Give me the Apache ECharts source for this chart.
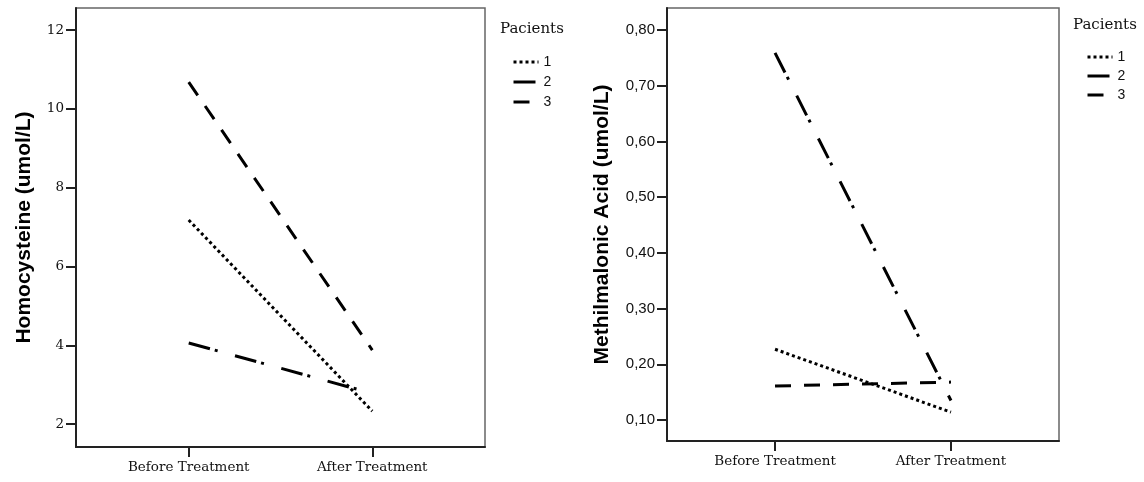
<!DOCTYPE html>
<html>
<head>
<meta charset="utf-8">
<script src="https://cdn.jsdelivr.net/npm/echarts@6/dist/echarts.min.js"></script>
<style>html,body{margin:0;padding:0;background:#fff}#c{width:1144px;height:482px}</style>
</head>
<body>
<div id="c"></div>
<script>
const categories = ['Before Treatment', 'After Treatment'];
const patients = ['1', '2', '3'];
const homocysteine = {
  '1': [7.18, 2.33],
  '2': [4.06, 2.78],
  '3': [10.68, 3.88]
};
const methylmalonic = {
  '1': [0.227, 0.114],
  '2': [0.759, 0.135],
  '3': [0.161, 0.168]
};
const homoTicks = [2, 4, 6, 8, 10, 12];
const mmaTicks = [0.1, 0.2, 0.3, 0.4, 0.5, 0.6, 0.7, 0.8];

const dashes = { '1': [3, 3], '2': [22, 5, 3, 18], '3': [16, 13] };

const chart = echarts.init(document.getElementById('c'));
const serif = 'DejaVu Serif';
const sans = 'Liberation Sans';

function xAxis(gi) {
  return {
    type: 'value', gridIndex: gi, min: -0.614, max: 1.614,
    axisLine: { show: true, onZero: false, lineStyle: { color: '#222', width: 2 } },
    axisTick: { show: true, length: 10, customValues: [0, 1], lineStyle: { color: '#222', width: 2 } },
    axisLabel: {
      customValues: [0, 1], margin: 13,
      formatter: v => categories[Math.round(v)],
      fontFamily: serif, fontSize: 13.5, color: '#111'
    },
    splitLine: { show: false }
  };
}
function yAxis(gi, min, max, ticks, name, fmt, font, fsize, gap) {
  return {
    type: 'value', gridIndex: gi, min: min, max: max,
    name: name, nameLocation: 'middle', nameGap: gap,
    nameTextStyle: { fontFamily: sans, fontWeight: 'bold', fontSize: 21, color: '#000' },
    axisLine: { show: true, onZero: false, lineStyle: { color: '#222', width: 2 } },
    axisTick: { show: true, length: 10, customValues: ticks, lineStyle: { color: '#222', width: 2 } },
    axisLabel: { customValues: ticks, formatter: fmt, fontFamily: font, fontSize: fsize, color: '#111', margin: 12 },
    splitLine: { show: false }
  };
}

const series = [];
patients.forEach(p => {
  series.push({
    name: p, type: 'line', xAxisIndex: 0, yAxisIndex: 0, symbol: 'none',
    lineStyle: { color: '#000', width: 3, type: dashes[p], cap: 'butt' },
    itemStyle: { color: '#000' },
    data: homocysteine[p].map((v, i) => [i, v])
  });
});
patients.forEach(p => {
  series.push({
    name: p, type: 'line', xAxisIndex: 1, yAxisIndex: 1, symbol: 'none',
    lineStyle: { color: '#000', width: 3, type: dashes[p], cap: 'butt' },
    itemStyle: { color: '#000' },
    data: methylmalonic[p].map((v, i) => [i, v])
  });
});

function legend(left, top, gap) {
  return {
    data: patients, left: left, top: top, orient: 'vertical',
    itemWidth: 25, itemHeight: 14, itemGap: gap, selectedMode: false,
    textStyle: { fontFamily: sans, fontSize: 14, color: '#111', padding: [0, 0, 0, 0] },
    lineStyle: { width: 3 },
    itemStyle: { opacity: 0, borderWidth: 0 }
  };
}

chart.setOption({
  animation: false,
  title: [
    { text: 'Pacients', left: 495, top: 17, textStyle: { fontFamily: serif, fontWeight: 'normal', fontSize: 15, color: '#111' } },
    { text: 'Pacients', left: 1068, top: 13, textStyle: { fontFamily: serif, fontWeight: 'normal', fontSize: 15, color: '#111' } }
  ],
  legend: [legend(507, 50, 6), legend(1081, 45, 5)],
  grid: [
    { left: 76, right: 659, top: 8, bottom: 35, show: true, borderColor: '#666', borderWidth: 1.5 },
    { left: 667, right: 85, top: 8, bottom: 41, show: true, borderColor: '#666', borderWidth: 1.5 }
  ],
  xAxis: [xAxis(0), xAxis(1)],
  yAxis: [
    yAxis(0, 1.42, 12.56, homoTicks, 'Homocysteine (umol/L)', v => String(v), serif, 13.5, 41),
    yAxis(1, 0.0623, 0.8395, mmaTicks, 'Methilmalonic Acid (umol/L)', v => v.toFixed(2).replace('.', ','), sans, 15, 54)
  ],
  series: series
});
</script>
</body>
</html>
